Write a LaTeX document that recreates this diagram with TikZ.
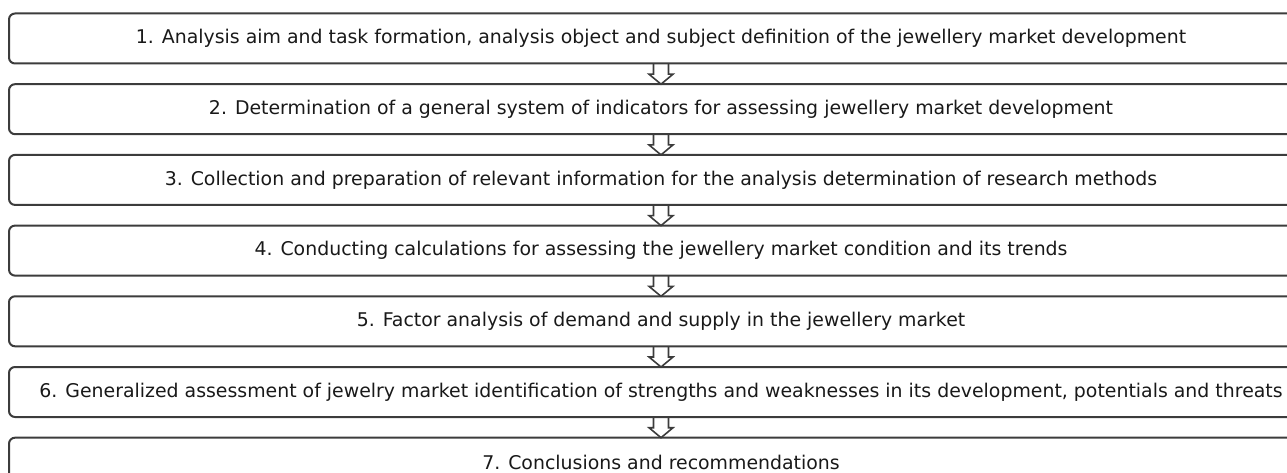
\documentclass[tikz,border=0pt]{standalone}
\usepackage{fontspec}
\setmainfont{DejaVu Sans}
\usetikzlibrary{positioning}
\definecolor{edgegray}{HTML}{3C3C3C}
\begin{document}
\begin{tikzpicture}[x=1pt,y=1pt,node distance=20.7pt,
  stage/.style={draw=edgegray,line width=2pt,rounded corners=6pt,outer sep=0pt,inner sep=0pt,minimum width=1304pt,minimum height=50pt,text=black!90,font=\fontsize{18.9}{21}\selectfont},
  hollow/.style={draw=edgegray,line width=1.6pt,line join=miter}]
\useasboundingbox(0,0)rectangle(1287,472);
\clip(0,0)rectangle(1287,472);
\node[stage](b1)at(661,433.5){1. Analysis aim and task formation, analysis object and subject definition of the jewellery market development};
\node[stage,below=of b1](b2){2. Determination of a general system of indicators for assessing jewellery market development};
\node[stage,below=of b2](b3){3. Collection and preparation of relevant information for the analysis determination of research methods};
\node[stage,below=of b3](b4){4. Conducting calculations for assessing the jewellery market condition and its trends};
\node[stage,below=of b4](b5){5. Factor analysis of demand and supply in the jewellery market};
\node[stage,below=of b5](b6){6. Generalized assessment of jewelry market identification of strengths and weaknesses in its development, potentials and threats};
\node[stage,below=of b6](b7){7. Conclusions and recommendations};
% hollow arrows between the stages
\foreach \i/\j in {1/2,2/3,3/4,4/5,5/6,6/7}{\draw[hollow](b\i.south)++(-7.5,0)--++(0,-10.7)--++(-4.5,0)--(b\j.north)--++(12,10)--++(-4.5,0)--++(0,10.7);}
\end{tikzpicture}
\end{document}
